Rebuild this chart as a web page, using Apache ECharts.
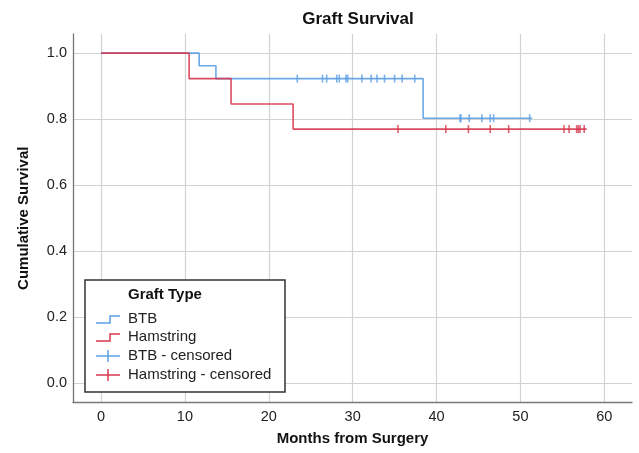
<!DOCTYPE html>
<html>
<head>
<meta charset="utf-8">
<script src="https://cdn.jsdelivr.net/npm/echarts@6/dist/echarts.min.js"></script>
<style>html,body{margin:0;padding:0;background:#fff;}#c{width:639px;height:453px;}</style>
</head>
<body>
<div id="c"></div>
<script>
// Kaplan-Meier steps: time of each step and survival after it (last point = end of follow-up)
const btbTimes = [0, 11.7, 13.7, 38.4, 51.4];
const btbSurv  = [1.0, 0.962, 0.923, 0.803, 0.803];
const hamTimes = [0, 10.5, 15.5, 22.9, 57.9];
const hamSurv  = [1.0, 0.923, 0.846, 0.770, 0.770];
// Censored observation times
const btbCensored = [23.4, 26.4, 26.9, 28.1, 28.4, 29.2, 29.4, 31.1, 32.2, 32.9, 33.8, 35.0, 35.9, 37.4, 42.8, 42.9, 43.9, 45.4, 46.4, 46.8, 51.1];
const hamCensored = [35.4, 41.1, 43.8, 46.4, 48.6, 55.2, 55.8, 56.7, 56.9, 57.1, 57.6];
const legendTitle = 'Graft Type';
const legendNames = ['BTB', 'Hamstring', 'BTB - censored', 'Hamstring - censored'];

const BLUE = '#5b9fe3';
const RED = '#d6384f';
const FONT = '"Liberation Sans", Arial, Helvetica, sans-serif';

function survAt(times, surv, t) {
  let s = surv[0];
  for (let i = 0; i < times.length; i++) { if (times[i] <= t) s = surv[i]; }
  return s;
}
const zip = (a, b) => a.map((v, i) => [v, b[i]]);

const chart = echarts.init(document.getElementById('c'), null, {renderer: 'canvas'});

const gridLeft = 73, gridTop = 34, gridRight = 7, gridBottom = 50.5;
const lx = 85, ly = 280;
const Z = 1000;

chart.setOption({
  animation: false,
  backgroundColor: '#fff',
  title: {
    text: 'Graft Survival', left: 353, top: 6, textAlign: 'center',
    textStyle: {fontFamily: FONT, fontSize: 17, fontWeight: 'bold', color: '#111'}
  },
  grid: {left: gridLeft, top: gridTop, right: gridRight, bottom: gridBottom, containLabel: false, outerBoundsMode: 'none'},
  xAxis: {
    type: 'value', min: -3.34, max: 63.3, splitNumber: 6,
    name: 'Months from Surgery', nameLocation: 'middle', nameGap: 29,
    nameTextStyle: {fontFamily: FONT, fontSize: 15, fontWeight: 'bold', color: '#111'},
    axisLine: {show: true, onZero: false, lineStyle: {color: '#777', width: 1.3}},
    axisTick: {show: false},
    axisLabel: {showMinLabel: false, showMaxLabel: false, fontFamily: FONT, fontSize: 14.5, color: '#222', margin: 7},
    splitLine: {show: true, showMinLine: false, showMaxLine: false, lineStyle: {color: '#d2d2d2', width: 1.2}}
  },
  yAxis: {
    type: 'value', min: -0.058, max: 1.058, splitNumber: 5,
    name: 'Cumulative Survival', nameLocation: 'middle', nameGap: 42,
    nameTextStyle: {fontFamily: FONT, fontSize: 15, fontWeight: 'bold', color: '#111'},
    axisLine: {show: true, onZero: false, lineStyle: {color: '#777', width: 1.3}},
    axisTick: {show: false},
    axisLabel: {showMinLabel: false, showMaxLabel: false, fontFamily: FONT, fontSize: 14.5, color: '#222', margin: 6,
      formatter: v => v.toFixed(1)},
    splitLine: {show: true, showMinLine: false, showMaxLine: false, lineStyle: {color: '#d2d2d2', width: 1.2}}
  },
  series: [
    {name: 'BTB', type: 'line', step: 'end', showSymbol: false, symbol: 'none',
     data: zip(btbTimes, btbSurv), lineStyle: {color: BLUE, width: 1.6, opacity: 0.9}, z: 3},
    {name: 'Hamstring', type: 'line', step: 'end', showSymbol: false, symbol: 'none',
     data: zip(hamTimes, hamSurv), lineStyle: {color: RED, width: 1.6, opacity: 0.9}, z: 3},
    {name: 'BTB - censored', type: 'scatter', symbol: 'rect', symbolSize: [1.6, 8],
     data: btbCensored.map(t => [t, survAt(btbTimes, btbSurv, t)]), itemStyle: {color: BLUE}, z: 4},
    {name: 'Hamstring - censored', type: 'scatter', symbol: 'rect', symbolSize: [1.6, 8],
     data: hamCensored.map(t => [t, survAt(hamTimes, hamSurv, t)]), itemStyle: {color: RED}, z: 4}
  ],
  graphic: {
    elements: [
      {type: 'rect', z: Z, shape: {x: lx, y: ly, width: 200, height: 112},
       style: {fill: '#fff', stroke: '#333', lineWidth: 1.5}},
      {type: 'text', z: Z + 1, x: lx + 43, y: ly + 15, style: {text: legendTitle, fontFamily: FONT, fontSize: 15, fontWeight: 'bold', fill: '#111', verticalAlign: 'middle'}},
      {type: 'polyline', z: Z + 1, shape: {points: [[lx + 11, ly + 43], [lx + 25, ly + 43], [lx + 25, ly + 36], [lx + 35, ly + 36]]}, style: {stroke: BLUE, lineWidth: 1.5, fill: null}},
      {type: 'text', z: Z + 1, x: lx + 43, y: ly + 39, style: {text: legendNames[0], fontFamily: FONT, fontSize: 15, fill: '#222', verticalAlign: 'middle'}},
      {type: 'polyline', z: Z + 1, shape: {points: [[lx + 11, ly + 61], [lx + 25, ly + 61], [lx + 25, ly + 54], [lx + 35, ly + 54]]}, style: {stroke: RED, lineWidth: 1.5, fill: null}},
      {type: 'text', z: Z + 1, x: lx + 43, y: ly + 57, style: {text: legendNames[1], fontFamily: FONT, fontSize: 15, fill: '#222', verticalAlign: 'middle'}},
      {type: 'line', z: Z + 1, shape: {x1: lx + 11, y1: ly + 76, x2: lx + 35, y2: ly + 76}, style: {stroke: BLUE, lineWidth: 1.5}},
      {type: 'line', z: Z + 1, shape: {x1: lx + 23, y1: ly + 70, x2: lx + 23, y2: ly + 82}, style: {stroke: BLUE, lineWidth: 1.5}},
      {type: 'text', z: Z + 1, x: lx + 43, y: ly + 76, style: {text: legendNames[2], fontFamily: FONT, fontSize: 15, fill: '#222', verticalAlign: 'middle'}},
      {type: 'line', z: Z + 1, shape: {x1: lx + 11, y1: ly + 95, x2: lx + 35, y2: ly + 95}, style: {stroke: RED, lineWidth: 1.5}},
      {type: 'line', z: Z + 1, shape: {x1: lx + 23, y1: ly + 89, x2: lx + 23, y2: ly + 101}, style: {stroke: RED, lineWidth: 1.5}},
      {type: 'text', z: Z + 1, x: lx + 43, y: ly + 95, style: {text: legendNames[3], fontFamily: FONT, fontSize: 15, fill: '#222', verticalAlign: 'middle'}}
    ]
  }
});
</script>
</body>
</html>
